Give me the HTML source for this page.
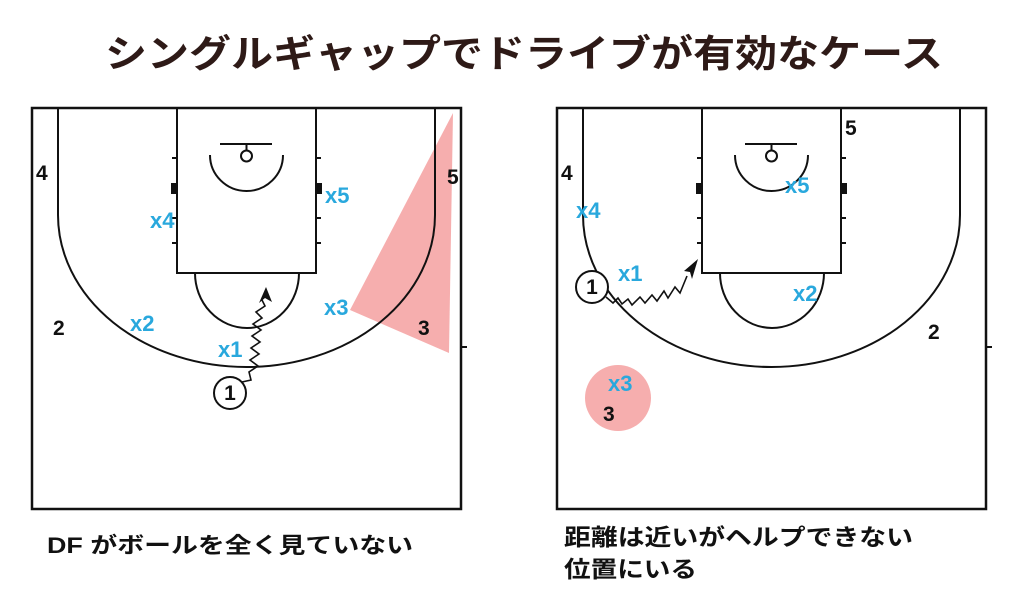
<!DOCTYPE html>
<html><head><meta charset="utf-8"><style>
html,body{margin:0;padding:0;background:#fff;width:1024px;height:589px;overflow:hidden}
svg{display:block}
.t{font-family:"Liberation Sans","Noto Sans CJK JP",sans-serif}
.b{font:bold 21px "Liberation Sans",sans-serif;fill:#111}
.c{font:bold 22px "Liberation Sans",sans-serif;fill:#29a8dd}
</style></head><body>
<svg width="1024" height="589" viewBox="0 0 1024 589" xmlns="http://www.w3.org/2000/svg">
<text class="t" x="105" y="67" font-size="38" font-weight="bold" fill="#2e1a17" textLength="838" lengthAdjust="spacingAndGlyphs">シングルギャップでドライブが有効なケース</text>

<defs>
<g id="court" fill="none" stroke="#111" stroke-width="2">
  <rect x="32" y="108" width="429" height="401" stroke-width="2.5"/>
  <rect x="177" y="108" width="139" height="165"/>
  <path d="M58 108 V215 A188.5 152 0 0 0 435 215 V108"/>
  <path d="M195 273 A52 55 0 0 0 299 273"/>
  <path d="M210 155 A36.5 36 0 0 0 283 155"/>
  <line x1="220" y1="144" x2="272" y2="144"/>
  <line x1="246.5" y1="144" x2="246.5" y2="150"/>
  <circle cx="246.5" cy="156" r="5.5"/>
  <path d="M172 158h5M172 218h5M172 243h5M316 158h5M316 218h5M316 243h5M461 347h6"/>
  <rect x="171" y="183" width="5" height="11" fill="#111" stroke="none"/>
  <rect x="317" y="183" width="5" height="11" fill="#111" stroke="none"/>
</g>
</defs>

<polygon points="453,113 350,310 449,353" fill="#f28c8c" opacity="0.7"/>
<use href="#court"/>
<use href="#court" x="525"/>
<circle cx="618" cy="398" r="33" fill="#f28c8c" opacity="0.7"/>

<!-- left court labels -->
<text class="b" x="36" y="180">4</text>
<text class="b" x="447" y="184">5</text>
<text class="c" x="325" y="203">x5</text>
<text class="c" x="150" y="228">x4</text>
<text class="b" x="53" y="335">2</text>
<text class="c" x="130" y="331">x2</text>
<text class="c" x="218" y="357">x1</text>
<text class="c" x="324" y="315">x3</text>
<text class="b" x="418" y="335">3</text>
<circle cx="230" cy="393" r="16" fill="#fff" stroke="#111" stroke-width="2"/>
<text class="b" x="230" y="400" text-anchor="middle">1</text>
<polyline fill="none" stroke="#111" stroke-width="1.6" points="242,382 251,380 249,372 258,366 250,360 259,354 251,348 260,342 252,336 261,330 253,324 262,318 256,312 265,306 262,300"/>
<polygon points="266,287 259,303 265,298 272,302" fill="#111"/>

<!-- right court labels -->
<text class="b" x="561" y="180">4</text>
<text class="b" x="845" y="135">5</text>
<text class="c" x="785" y="193">x5</text>
<text class="c" x="576" y="218">x4</text>
<text class="c" x="618" y="281">x1</text>
<text class="c" x="793" y="301">x2</text>
<text class="b" x="928" y="339">2</text>
<text class="c" x="608" y="391">x3</text>
<text class="b" x="603" y="421">3</text>
<polyline fill="none" stroke="#111" stroke-width="1.6" points="606,297 613,303 618,298 622,304 628,299 632,305 640,297 645,303 652,295 657,301 664,291 668,298 675,287 680,293 687,276"/>
<polygon points="698,259 684,271 690,272 692,279" fill="#111"/>
<circle cx="592" cy="287" r="16" fill="#fff" stroke="#111" stroke-width="2"/>
<text class="b" x="592" y="294" text-anchor="middle">1</text>

<!-- captions -->
<text class="t" x="47" y="553" font-size="22" font-weight="bold" fill="#111" textLength="366" lengthAdjust="spacingAndGlyphs">DF がボールを全く見ていない</text>
<text class="t" x="564" y="545" font-size="23" font-weight="bold" fill="#111" textLength="349" lengthAdjust="spacingAndGlyphs">距離は近いがヘルプできない</text>
<text class="t" x="564" y="577" font-size="23" font-weight="bold" fill="#111" textLength="133" lengthAdjust="spacingAndGlyphs">位置にいる</text>
</svg>
</body></html>
